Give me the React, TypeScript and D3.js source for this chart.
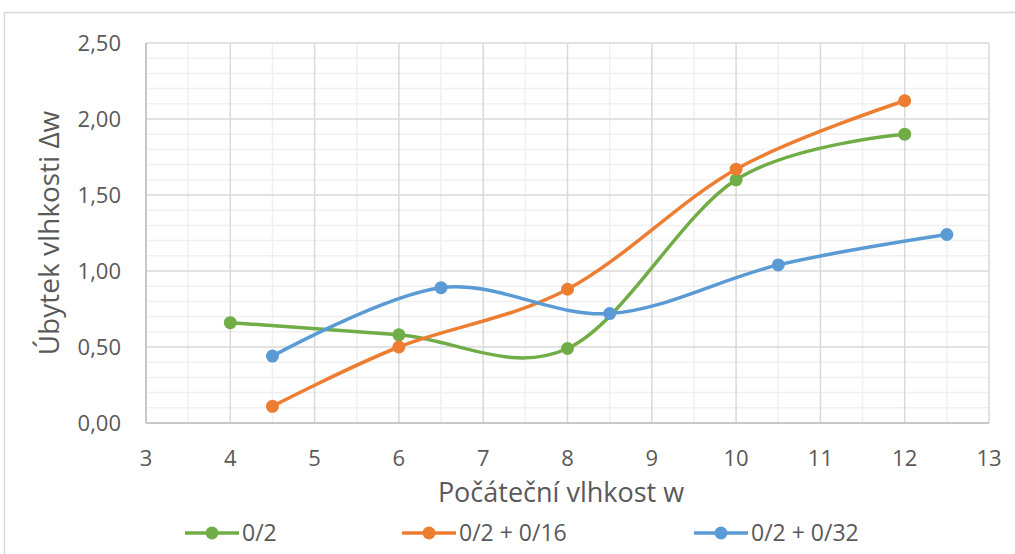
import * as d3 from 'd3';
import React from 'react';

// series values
const greenX = [4, 6, 8, 10, 12];
const greenY = [0.66, 0.58, 0.49, 1.6, 1.9];
const orangeX = [4.5, 6, 8, 10, 12];
const orangeY = [0.11, 0.5, 0.88, 1.67, 2.12];
const blueX = [4.5, 6.5, 8.5, 10.5, 12.5];
const blueY = [0.44, 0.89, 0.72, 1.04, 1.24];

const seriesNames = ['0/2', '0/2 + 0/16', '0/2 + 0/32'];
const seriesColors = ['#70ad47', '#ed7d31', '#5b9bd5'];

const xTicks = [3, 4, 5, 6, 7, 8, 9, 10, 11, 12, 13];
const yTicks = [0, 0.5, 1, 1.5, 2, 2.5];

const xTitle = 'Počáteční vlhkost w';
const yTitle = 'Úbytek vlhkosti Δw';

const W = 1015;
const H = 554;
const plot = { left: 146, right: 989, top: 43, bottom: 423 };
const font = '"Open Sans", sans-serif';

export default function App() {
  const x = d3.scaleLinear().domain([3, 13]).range([plot.left, plot.right]);
  const y = d3.scaleLinear().domain([0, 2.5]).range([plot.bottom, plot.top]);

  const series = [
    greenX.map((v, i) => [v, greenY[i]] as [number, number]),
    orangeX.map((v, i) => [v, orangeY[i]] as [number, number]),
    blueX.map((v, i) => [v, blueY[i]] as [number, number]),
  ];

  // Excel-like smoothed line
  const line = d3
    .line<[number, number]>()
    .x(d => x(d[0]))
    .y(d => y(d[1]))
    .curve(d3.curveCardinal.tension(0));

  const fmt = (v: number) => v.toFixed(2).replace('.', ',');

  // minor grid: half units on x, 0.1 on y
  const xMinor = d3.range(3.5, 13, 1);
  const yMinor = d3.range(0, 2.5001, 0.1).filter(v => Math.abs(v * 2 - Math.round(v * 2)) > 1e-6);

  const legendX = [185, 402, 694];
  const legendY = 533;

  return (
    <svg
      width={W}
      height={H}
      style={{ position: 'absolute', left: 0, top: 0, background: '#fff' }}
      fontFamily={font}
    >
      <rect x={4.5} y={12.5} width={W + 10} height={H + 10} fill="#fff" stroke="#d9d9d9" strokeWidth={1.5} />

      {/* minor gridlines */}
      {xMinor.map(v => (
        <line key={'xm' + v} x1={x(v)} x2={x(v)} y1={plot.top} y2={plot.bottom} stroke="#f0f0f0" strokeWidth={1.5} />
      ))}
      {yMinor.map(v => (
        <line key={'ym' + v} x1={plot.left} x2={plot.right} y1={y(v)} y2={y(v)} stroke="#f0f0f0" strokeWidth={1.5} />
      ))}
      {/* major gridlines */}
      {xTicks.map(v => (
        <line key={'xM' + v} x1={x(v)} x2={x(v)} y1={plot.top} y2={plot.bottom} stroke="#d9d9d9" strokeWidth={1.5} />
      ))}
      {yTicks.map(v => (
        <line key={'yM' + v} x1={plot.left} x2={plot.right} y1={y(v)} y2={y(v)} stroke="#d9d9d9" strokeWidth={1.5} />
      ))}
      <line x1={plot.left} x2={plot.right} y1={plot.bottom} y2={plot.bottom} stroke="#bfbfbf" strokeWidth={1.5} />
      <line x1={plot.left} x2={plot.left} y1={plot.top} y2={plot.bottom} stroke="#bfbfbf" strokeWidth={1.5} />

      {/* tick labels */}
      {yTicks.map(v => (
        <text key={'yl' + v} x={121} y={y(v) + 8} textAnchor="end" fontSize={22} fill="#595959">
          {fmt(v)}
        </text>
      ))}
      {xTicks.map(v => (
        <text key={'xl' + v} x={x(v)} y={466} textAnchor="middle" fontSize={22} fill="#595959">
          {v}
        </text>
      ))}

      {/* axis titles */}
      <text x={561} y={502} textAnchor="middle" fontSize={27} fill="#595959">
        {xTitle}
      </text>
      <text
        transform={`translate(59,${(plot.top + plot.bottom) / 2}) rotate(-90)`}
        textAnchor="middle"
        fontSize={28}
        fill="#595959"
      >
        {yTitle}
      </text>

      {/* series */}
      {series.map((s, i) => (
        <g key={'s' + i}>
          <path d={line(s) ?? ''} fill="none" stroke={seriesColors[i]} strokeWidth={3.5} strokeLinecap="round" />
          {s.map((d, j) => (
            <circle key={j} cx={x(d[0])} cy={y(d[1])} r={6.5} fill={seriesColors[i]} />
          ))}
        </g>
      ))}

      {/* legend */}
      {seriesNames.map((name, i) => (
        <g key={'lg' + i}>
          <line x1={legendX[i]} x2={legendX[i] + 54} y1={legendY} y2={legendY} stroke={seriesColors[i]} strokeWidth={3.5} />
          <circle cx={legendX[i] + 27} cy={legendY} r={6.5} fill={seriesColors[i]} />
          <text x={legendX[i] + 57} y={legendY + 7.5} fontSize={23} fill="#595959">
            {name}
          </text>
        </g>
      ))}
    </svg>
  );
}
